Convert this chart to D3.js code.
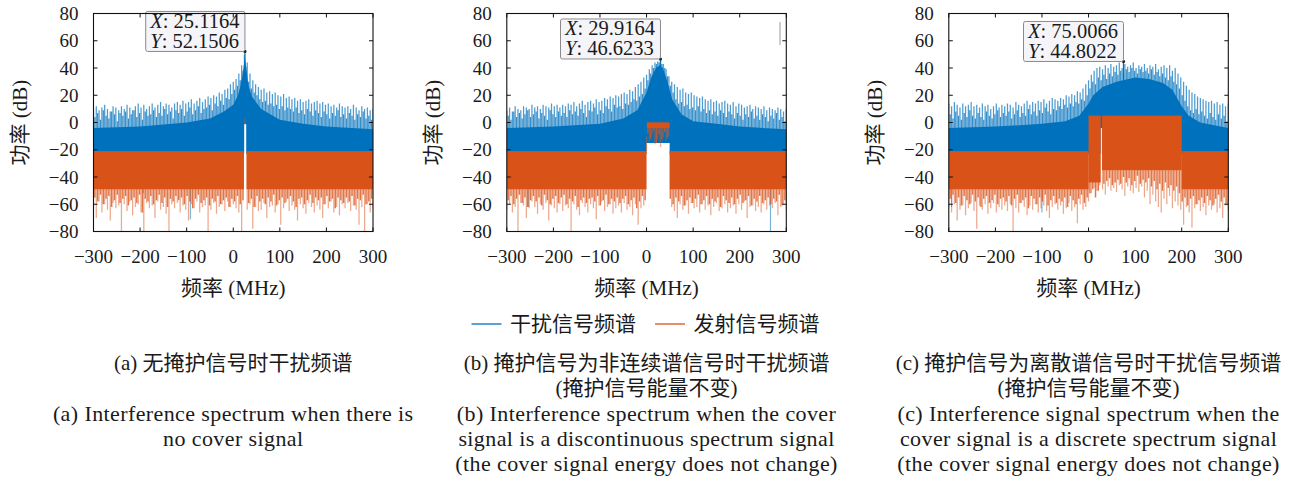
<!DOCTYPE html>
<html>
<head>
<meta charset="utf-8">
<script src="https://cdn.jsdelivr.net/npm/d3@7"></script>
<style>
  body { margin: 0; background: #fff; }
  svg text { fill: #1a1a1a; font-family: 'Liberation Serif', 'Noto Sans CJK SC', serif; }
</style>
</head>
<body>
<svg id="fig" width="1298" height="479"></svg>
<script>
// Frequency grids (MHz): main comb lines and the lines lying half-way between them
const combFreq = d3.range(-300, 301, 6);
const subFreq = d3.range(-297, 300, 6);
const xTicks = [-300, -200, -100, 0, 100, 200, 300];
const yTicks = [-80, -60, -40, -20, 0, 20, 40, 60, 80];
const seriesNames = ["干扰信号频谱", "发射信号频谱"];

// ---------- (a) no cover signal ----------
const bluePeakA = [
  10, 12, 9, 11, 13, 10, 8, 12, 11, 9,
  12, 10, 13, 11, 9, 12, 14, 11, 13, 10,
  12, 14, 11, 13, 15, 12, 14, 13, 11, 14,
  15, 13, 16, 14, 15, 17, 14, 16, 18, 15,
  17, 19, 18, 20, 19, 22, 21, 24, 25, 28,
  30, 32, 36, 42, 50, 44, 36, 31, 28, 26,
  24, 25, 22, 23, 21, 22, 20, 19, 21, 18,
  19, 17, 18, 16, 17, 15, 16, 17, 14, 15,
  16, 14, 15, 13, 14, 12, 13, 11, 14, 12,
  11, 12, 10, 13, 11, 9, 12, 10, 11, 9, 10
];
const blueSubA = [
  4, 7, 2, 9, 5, 3, 8, 6, 1, 7,
  5, 8, 3, 6, 9, 4, 7, 2, 8, 5,
  6, 9, 4, 7, 5, 10, 6, 8, 3, 9,
  7, 10, 5, 8, 11, 6, 9, 12, 7, 10,
  11, 13, 9, 14, 12, 16, 13, 18, 17, 21,
  24, 27, 31, 38, 41, 30, 25, 22, 20, 17,
  15, 16, 13, 14, 12, 13, 10, 12, 9, 11,
  10, 8, 11, 7, 9, 6, 10, 8, 5, 9,
  7, 4, 8, 6, 3, 7, 5, 9, 4, 6,
  3, 7, 5, 2, 6, 4, 8, 3, 5, 2
];
const blueTopA = [
  [-300, -4], [-200, -3], [-100, 0], [-50, 3], [-20, 8], [0, 13], [10, 20],
  [15, 26], [20, 35], [25, 48], [28, 40], [32, 28], [40, 19], [60, 10],
  [100, 2], [150, -1], [200, -3], [300, -5]
];
const blueFloorA = [[-300, 23.5, -23], [23.5, 28, -1], [28, 300, -23]];
const blueDipA = [[-92, -71], [-193, -52]];
const orangeBandA = [[-300, 23, -21, -49], [28.5, 300, -21, -49], [24.6, 25.8, 3, -2]];
const orangeDipA = [
  -62, -70, -58, -66, -60, -64, -72, -59, -63, -61,
  -80, -60, -65, -58, -68, -62, -60, -66, -80, -59,
  -63, -61, -70, -58, -64, -62, -67, -80, -60, -63,
  -59, -66, -61, -64, -72, -60, -63, -58, -66, -62,
  -61, -80, -64, -59, -67, -62, -60, -65, -58, -62,
  -60, -63, -66, -80, -61, -64, -60, -78, -62, -65,
  -64, -59, -70, -62, -61, -66, -60, -75, -63, -58,
  -65, -61, -64, -72, -60, -63, -67, -59, -62, -66,
  -61, -64, -70, -60, -63, -58, -66, -62, -68, -60,
  -63, -59, -65, -61, -64, -75, -62, -80, -60, -66, -63
];
const orangeSubA = [
  -55, -58, -53, -60, -56, -54, -62, -57, -53, -59,
  -56, -54, -61, -57, -55, -59, -53, -66, -56, -58,
  -54, -60, -57, -53, -59, -55, -62, -56, -58, -54,
  -57, -55, -60, -54, -58, -63, -56, -53, -59, -57,
  -55, -61, -56, -58, -54, -60, -57, -55, -62, -56,
  -58, -54, -60, -57, -55, -59, -56, -62, -54, -58,
  -56, -60, -55, -58, -53, -61, -57, -55, -59, -56,
  -54, -58, -62, -56, -55, -60, -57, -53, -59, -55,
  -57, -55, -60, -54, -58, -56, -63, -55, -57, -59,
  -55, -58, -54, -61, -56, -57, -53, -60, -58, -56
];
const tipA = [25.1164, 52.1506];
const captionCnA = ["(a) 无掩护信号时干扰频谱"];
const captionEnA = ["(a) Interference spectrum when there is", "no cover signal"];

// ---------- (b) discontinuous-spectrum cover signal ----------
const bluePeakB = [
  9, 11, 8, 12, 10, 9, 12, 11, 10, 13,
  11, 12, 10, 13, 12, 11, 14, 12, 13, 11,
  13, 12, 14, 13, 15, 12, 14, 16, 13, 15,
  16, 14, 17, 15, 16, 18, 17, 19, 18, 20,
  19, 21, 22, 21, 24, 23, 26, 28, 30, 33,
  35, 39, 42, 44, 45, 46, 43, 39, 34, 30,
  28, 26, 24, 25, 22, 21, 22, 20, 19, 18,
  19, 17, 16, 17, 15, 16, 14, 15, 16, 14,
  13, 15, 12, 14, 13, 11, 12, 13, 10, 12,
  11, 10, 12, 9, 11, 10, 9, 11, 10, 8, 10
];
const blueSubB = [
  5, 2, 8, 4, 7, 3, 6, 9, 4, 6,
  8, 3, 7, 5, 2, 9, 6, 4, 8, 5,
  7, 4, 9, 6, 8, 5, 10, 7, 4, 9,
  8, 11, 6, 9, 7, 12, 10, 8, 13, 11,
  12, 10, 14, 13, 15, 17, 16, 19, 21, 25,
  31, 36, 40, 43, 44, 43, 40, 34, 27, 22,
  17, 14, 15, 12, 13, 10, 11, 9, 12, 8,
  10, 7, 9, 6, 8, 5, 9, 7, 4, 8,
  6, 3, 7, 5, 2, 6, 4, 8, 3, 5,
  2, 6, 4, 1, 5, 3, 7, 2, 4, 1
];
const blueTopB = [
  [-300, -4], [-200, -3], [-100, -1], [-50, 3], [-20, 9], [0, 22], [10, 33],
  [20, 40], [28, 42], [35, 40], [45, 30], [55, 17], [75, 6], [100, 1],
  [150, -1], [200, -3], [300, -5]
];
const blueFloorB = [[-300, 0, -23], [0, 50, -15], [50, 300, -23]];
const blueDipB = [[266, -80], [-254, -62]];
const orangeBandB = [[-300, 0, -21, -49], [50, 300, -21, -49], [0.5, 49.5, 0, -4]];
const orangeDipB = [
  -64, -60, -66, -62, -80, -59, -61, -70, -63, -58,
  -62, -67, -60, -64, -59, -72, -61, -63, -66, -60,
  -65, -61, -63, -80, -60, -64, -68, -59, -62, -66,
  -60, -63, -71, -61, -58, -65, -62, -60, -67, -63,
  -61, -66, -59, -64, -62, -68, -60, -75, -63, -61,
  -10, -14, -9, -16, -12, -18, -11, -13, -10, -62,
  -65, -70, -60, -64, -61, -67, -59, -63, -62, -66,
  -60, -64, -61, -68, -62, -59, -65, -63, -60, -66,
  -63, -61, -67, -60, -64, -58, -70, -62, -61, -65,
  -62, -66, -60, -64, -61, -63, -59, -68, -62, -60, -64
];
const orangeSubB = [
  -57, -54, -60, -56, -53, -59, -55, -62, -57, -54,
  -58, -55, -61, -53, -57, -60, -56, -54, -59, -55,
  -53, -60, -56, -58, -54, -62, -57, -55, -59, -56,
  -55, -58, -54, -61, -57, -53, -60, -56, -58, -55,
  -59, -56, -54, -60, -57, -55, -63, -58, -54, -57,
  -8, -12, -6, -15, -9, -13, -7, -11, -56, -60,
  -55, -58, -54, -61, -57, -55, -59, -56, -53, -60,
  -57, -54, -60, -56, -58, -55, -62, -54, -57, -59,
  -55, -60, -56, -53, -59, -57, -54, -61, -56, -58,
  -54, -59, -57, -55, -60, -56, -58, -53, -61, -57
];
const tipB = [29.9164, 46.6233];
const captionCnB = ["(b) 掩护信号为非连续谱信号时干扰频谱", "(掩护信号能量不变)"];
const captionEnB = ["(b) Interference spectrum when the cover",
  "signal is a discontinuous spectrum signal",
  "(the cover signal energy does not change)"];

// ---------- (c) discrete-spectrum cover signal ----------
const bluePeakC = [
  14, 12, 15, 13, 11, 14, 12, 13, 15, 12,
  13, 11, 14, 12, 13, 10, 12, 14, 11, 13,
  12, 14, 13, 11, 15, 13, 12, 14, 16, 13,
  15, 14, 16, 15, 17, 14, 16, 18, 17, 16,
  18, 17, 20, 19, 21, 20, 23, 22, 25, 28,
  31, 35, 38, 40, 41, 39, 42, 40, 43, 41,
  42, 44, 40, 43, 41, 42, 44, 40, 42, 41,
  43, 40, 42, 41, 43, 39, 41, 42, 40, 42,
  38, 40, 36, 33, 30, 27, 24, 22, 21, 19,
  18, 17, 16, 15, 16, 14, 15, 13, 14, 12, 14
];
const blueSubC = [
  6, 3, 8, 5, 2, 7, 4, 9, 5, 3,
  7, 4, 2, 8, 5, 3, 6, 9, 4, 7,
  5, 8, 3, 6, 9, 4, 7, 5, 10, 6,
  8, 5, 9, 7, 11, 8, 6, 10, 9, 12,
  10, 13, 11, 14, 12, 15, 14, 17, 16, 20,
  25, 30, 28, 33, 31, 35, 32, 36, 34, 37,
  35, 38, 36, 39, 37, 40, 38, 36, 39, 37,
  38, 36, 39, 35, 37, 34, 36, 33, 31, 34,
  30, 28, 25, 20, 16, 12, 9, 7, 10, 6,
  8, 5, 3, 7, 4, 2, 6, 3, 5, 1
];
const blueTopC = [
  [-300, -4], [-200, -3], [-100, -1], [-50, 1], [-20, 5], [0, 14], [10, 20],
  [30, 26], [60, 30], [100, 33], [130, 32], [160, 29], [180, 24], [200, 12],
  [215, 5], [240, 0], [300, -4]
];
const blueFloorC = [[-300, 25.5, -23], [25.5, 29.5, -4], [29.5, 300, -23]];
const blueDipC = [[-100, -66], [-294, -62]];
const orangeBandC = [[-300, 0, -21, -49], [0, 26, 5, -44], [29, 200, 5, -35], [200, 300, -21, -49]];
const orangeDipC = [
  -62, -66, -60, -72, -64, -61, -68, -63, -59, -65,
  -78, -61, -64, -60, -67, -63, -59, -66, -62, -64,
  -61, -65, -60, -80, -63, -66, -59, -62, -68, -61,
  -64, -60, -66, -63, -61, -65, -70, -62, -60, -64,
  -61, -67, -63, -59, -65, -62, -74, -60, -64, -62,
  -58, -52, -48, -50, -46, -49, -53, -47, -50, -48,
  -51, -46, -49, -54, -47, -50, -52, -48, -51, -47,
  -55, -50, -60, -53, -58, -62, -66, -56, -60, -54,
  -63, -58, -61, -64, -75, -62, -66, -77, -63, -60,
  -65, -62, -68, -61, -64, -60, -66, -63, -70, -61, -64
];
const orangeSubC = [
  -56, -53, -59, -55, -61, -54, -57, -60, -53, -58,
  -55, -62, -56, -54, -59, -57, -53, -60, -56, -55,
  -58, -54, -61, -56, -53, -59, -57, -55, -63, -54,
  -56, -60, -55, -58, -53, -61, -57, -54, -59, -56,
  -58, -55, -62, -54, -57, -60, -56, -53, -59, -55,
  -52, -49, -55, -50, -42, -45, -43, -41, -46, -44,
  -42, -45, -40, -44, -41, -46, -43, -39, -45, -42,
  -44, -41, -47, -43, -49, -45, -50, -44, -48, -46,
  -50, -47, -52, -58, -55, -61, -56, -54, -60, -57,
  -55, -59, -54, -57, -61, -56, -53, -58, -55, -60
];
const tipC = [75.0066, 44.8022];
const captionCnC = ["(c) 掩护信号为离散谱信号时干扰信号频谱", "(掩护信号能量不变)"];
const captionEnC = ["(c) Interference signal spectrum when the",
  "cover signal is a discrete spectrum signal",
  "(the cover signal energy does not change)"];

// ---------- layout ----------
const BLUE = "#0072BD", ORANGE = "#D95319";
const plotTop = 13.5, plotBottom = 231.5, plotW = 279.5;
const panels = [
  { left: 93.5, peak: bluePeakA, sub: blueSubA, top: blueTopA, floor: blueFloorA, bdip: blueDipA,
    band: orangeBandA, odip: orangeDipA, osub: orangeSubA, tip: tipA, cn: captionCnA, en: captionEnA },
  { left: 506.8, peak: bluePeakB, sub: blueSubB, top: blueTopB, floor: blueFloorB, bdip: blueDipB,
    band: orangeBandB, odip: orangeDipB, osub: orangeSubB, tip: tipB, cn: captionCnB, en: captionEnB },
  { left: 948.8, peak: bluePeakC, sub: blueSubC, top: blueTopC, floor: blueFloorC, bdip: blueDipC,
    band: orangeBandC, odip: orangeDipC, osub: orangeSubC, tip: tipC, cn: captionCnC, en: captionEnC }
];

const svg = d3.select("#fig");
const fmt = d => d < 0 ? "\u2212" + Math.abs(d) : String(d);

panels.forEach((p, k) => {
  const x = d3.scaleLinear().domain([-300, 300]).range([p.left, p.left + plotW]);
  const y = d3.scaleLinear().domain([-80, 80]).range([plotBottom, plotTop]);
  const g = svg.append("g");
  const clipId = "clip" + k;
  svg.append("clipPath").attr("id", clipId).append("rect")
    .attr("x", p.left).attr("y", plotTop).attr("width", plotW).attr("height", plotBottom - plotTop);
  const plot = g.append("g").attr("clip-path", `url(#${clipId})`);

  const floorAt = f => { const s = p.floor.find(s => f >= s[0] && f < s[1]) || p.floor[p.floor.length - 1]; return s[2]; };
  const bandAt = f => p.band.find(s => f >= s[0] && f <= s[1]);

  // comb lines of the interference spectrum (main lines, in-between lines, peak line)
  const combLines = combFreq.map((f, i) => [f, p.peak[i], 0.7])
    .concat(subFreq.map((f, i) => [f, p.sub[i], 0.8]))
    .concat([[p.tip[0], p.tip[1], 1]]);
  plot.append("g").selectAll("line").data(combLines).join("line")
    .attr("x1", d => x(d[0])).attr("x2", d => x(d[0]))
    .attr("y1", d => y(d[1])).attr("y2", d => y(floorAt(d[0])))
    .attr("stroke", BLUE).attr("stroke-width", 1.25).attr("stroke-opacity", d => d[2]);

  // dense body of the interference spectrum
  const topPts = p.top.map(d => [x(d[0]), y(d[1])]);
  const botPts = [];
  p.floor.slice().reverse().forEach(s => { botPts.push([x(s[1]), y(s[2])]); botPts.push([x(s[0]), y(s[2])]); });
  plot.append("path").attr("d", d3.line()(topPts.concat(botPts)) + "Z").attr("fill", BLUE);

  // deep nulls of the interference spectrum
  plot.append("g").selectAll("line").data(p.bdip).join("line")
    .attr("x1", d => x(d[0])).attr("x2", d => x(d[0]))
    .attr("y1", d => y(floorAt(d[0]))).attr("y2", d => y(d[1]))
    .attr("stroke", BLUE).attr("stroke-width", 1.1).attr("stroke-opacity", 0.55);

  // nulls of the transmitted spectrum
  const dips = combFreq.map((f, i) => [f, p.odip[i], 0.5, 1.25])
    .concat(subFreq.map((f, i) => [f, p.osub[i], 0.8, 1.45]))
    .filter(d => bandAt(d[0]));
  plot.append("g").selectAll("line").data(dips).join("line")
    .attr("x1", d => x(d[0])).attr("x2", d => x(d[0]))
    .attr("y1", d => y(bandAt(d[0])[2])).attr("y2", d => y(d[1]))
    .attr("stroke", ORANGE).attr("stroke-width", d => d[3]).attr("stroke-opacity", d => d[2]);

  // dense body of the transmitted spectrum
  plot.append("g").selectAll("rect").data(p.band).join("rect")
    .attr("x", d => x(d[0])).attr("width", d => x(d[1]) - x(d[0]))
    .attr("y", d => y(d[2])).attr("height", d => y(d[3]) - y(d[2]))
    .attr("fill", ORANGE);

  // data tip
  const tx = x(p.tip[0]), ty = y(p.tip[1]);
  g.append("circle").attr("cx", tx).attr("cy", ty).attr("r", 1.6).attr("fill", "#222");
  const tipG = g.append("g");
  const box = tipG.append("rect").attr("fill", "#f5f5f9").attr("stroke", "#8a8a8a")
    .attr("stroke-width", 1).attr("rx", 2);
  const lines = [["X", p.tip[0].toFixed(4)], ["Y", p.tip[1].toFixed(4)]];
  const txt = tipG.selectAll("text").data(lines).join("text")
    .attr("font-size", 20.5).attr("y", (d, i) => i * 30);
  txt.append("tspan").attr("font-style", "italic").text(d => d[0]);
  txt.append("tspan").text(d => ": " + d[1]);
  const bb = tipG.node().getBBox();
  const bw = bb.width + 9, bh = 40;
  const bx = tx - bw, by = ty - bh;
  txt.attr("x", bx + 4.5).attr("y", (d, i) => by + 16.5 + i * 20);
  box.attr("x", bx).attr("y", by).attr("width", bw).attr("height", bh);

  // frame and inward ticks
  g.append("rect").attr("x", p.left).attr("y", plotTop).attr("width", plotW).attr("height", plotBottom - plotTop)
    .attr("fill", "none").attr("stroke", "#111").attr("stroke-width", 1.1);
  const tl = 4;
  g.append("g").selectAll("path").data(xTicks).join("path")
    .attr("d", d => `M${x(d)},${plotBottom}v${-tl}M${x(d)},${plotTop}v${tl}`)
    .attr("stroke", "#111").attr("stroke-width", 1);
  g.append("g").selectAll("path").data(yTicks).join("path")
    .attr("d", d => `M${p.left},${y(d)}h${tl}M${p.left + plotW},${y(d)}h${-tl}`)
    .attr("stroke", "#111").attr("stroke-width", 1);

  // tick labels
  g.append("g").selectAll("text").data(xTicks).join("text")
    .attr("x", d => x(d)).attr("y", 256).attr("text-anchor", "middle")
    .attr("dominant-baseline", "central").attr("font-size", 19).text(fmt);
  g.append("g").selectAll("text").data(yTicks).join("text")
    .attr("x", p.left - 15).attr("y", d => y(d)).attr("text-anchor", "end")
    .attr("dominant-baseline", "central").attr("font-size", 19).text(fmt);

  // axis titles
  const cx = p.left + plotW / 2;
  g.append("text").attr("x", cx).attr("y", 288).attr("text-anchor", "middle")
    .attr("dominant-baseline", "central").attr("font-size", 21).text("频率 (MHz)");
  g.append("text").attr("transform", `translate(${p.left - 74},${(plotTop + plotBottom) / 2}) rotate(-90)`)
    .attr("text-anchor", "middle").attr("dominant-baseline", "central").attr("font-size", 21).text("功率 (dB)");

  // sub-figure captions
  g.append("g").selectAll("text").data(p.cn).join("text")
    .attr("x", cx).attr("y", (d, i) => 363 + i * 24.5).attr("text-anchor", "middle")
    .attr("dominant-baseline", "central").attr("font-size", 21).text(d => d);
  g.append("g").selectAll("text").data(p.en).join("text")
    .attr("x", cx).attr("y", (d, i) => 413 + i * 25).attr("text-anchor", "middle")
    .attr("dominant-baseline", "central").attr("font-size", 22).attr("letter-spacing", 0.4).text(d => d);
});

// stray legend edge left in panel (b)
svg.append("line").attr("x1", 780).attr("x2", 780).attr("y1", 22).attr("y2", 45)
  .attr("stroke", "#9a9a9a").attr("stroke-width", 1);

// shared legend
const legend = svg.append("g");
const legendX = [471.5, 655];
seriesNames.forEach((name, i) => {
  legend.append("line").attr("x1", legendX[i]).attr("x2", legendX[i] + 30).attr("y1", 324).attr("y2", 324)
    .attr("stroke", i === 0 ? BLUE : ORANGE).attr("stroke-width", 1.3);
  legend.append("text").attr("x", legendX[i] + 38.5).attr("y", 324).attr("dominant-baseline", "central")
    .attr("font-size", 21).text(name);
});
</script>
</body>
</html>
